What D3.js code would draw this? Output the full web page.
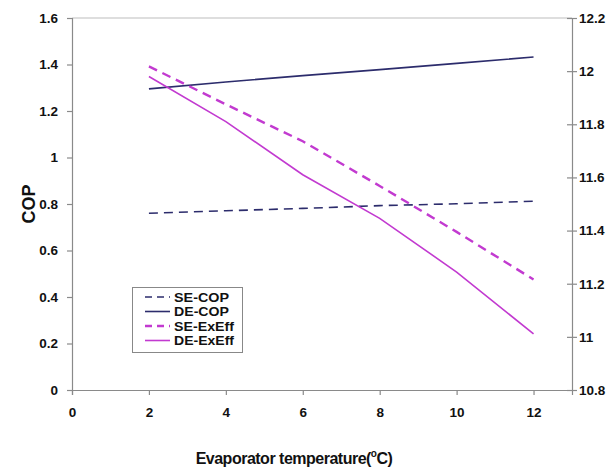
<!DOCTYPE html>
<html><head><meta charset="utf-8">
<script src="https://cdn.jsdelivr.net/npm/d3@7"></script>
<style>body{margin:0;background:#fff}svg{display:block}text{font-family:"Liberation Sans",Arial,sans-serif;font-weight:bold}</style>
</head><body>
<svg id="c" width="610" height="473"></svg>
<script>
const temps = [2, 4, 6, 8, 10, 12];
const seCOP = [0.760, 0.771, 0.781, 0.793, 0.801, 0.812];
const deCOP = [1.295, 1.325, 1.352, 1.378, 1.405, 1.432];
const seExEff = [12.018, 11.875, 11.736, 11.568, 11.395, 11.216];
const deExEff = [11.98, 11.81, 11.61, 11.446, 11.244, 11.011];
const xTicks = [0, 2, 4, 6, 8, 10, 12];
const yLeftTicks = [0, 0.2, 0.4, 0.6, 0.8, 1, 1.2, 1.4, 1.6];
const yRightTicks = [10.8, 11, 11.2, 11.4, 11.6, 11.8, 12, 12.2];
const seriesNames = ["SE-COP", "DE-COP", "SE-ExEff", "DE-ExEff"];

const svg = d3.select("#c");
const L = 72, R = 572, T = 18, B = 390;
const x = d3.scaleLinear().domain([0, 13]).range([L, R]);
const yL = d3.scaleLinear().domain([0, 1.6]).range([B, T]);
const yR = d3.scaleLinear().domain([10.8, 12.2]).range([B, T]);
const axisCol = "#8a8a8a";

svg.append("line").attr("x1", L).attr("x2", R).attr("y1", T).attr("y2", T).attr("stroke", "#bdbdbd").attr("stroke-width", 1);

const fmt = d => d3.format("")(+d.toFixed(1));
const gx = svg.append("g").attr("transform", `translate(0,${B})`)
  .call(d3.axisBottom(x).tickValues(xTicks).tickSize(5).tickPadding(12).tickFormat(d3.format("d")));
const gl = svg.append("g").attr("transform", `translate(${L},0)`)
  .call(d3.axisLeft(yL).tickValues(yLeftTicks).tickSize(5).tickPadding(9).tickFormat(fmt));
const gr = svg.append("g").attr("transform", `translate(${R},0)`)
  .call(d3.axisRight(yR).tickValues(yRightTicks).tickSize(5).tickPadding(2).tickFormat(fmt));
gr.selectAll(".tick line").attr("x1", -5);
[gx, gl, gr].forEach(g => {
  g.select(".domain").attr("stroke", axisCol).attr("stroke-width", 1.2);
  g.selectAll(".tick line").attr("stroke", axisCol).attr("stroke-width", 1.2);
  g.selectAll(".tick text").attr("fill", "#111").style("font-size", "13.5px").style("font-family", "'Liberation Sans',Arial,sans-serif").style("font-weight", "bold");
});

const navy = "#2c2c6c", mag = "#c23ad0";
const lineL = d3.line().x((d, i) => x(temps[i])).y(d => yL(d));
const lineR = d3.line().x((d, i) => x(temps[i])).y(d => yR(d));
svg.append("path").attr("d", lineL(seCOP)).attr("fill", "none").attr("stroke", navy).attr("stroke-width", 1.6).attr("stroke-dasharray", "9,6");
svg.append("path").attr("d", lineL(deCOP)).attr("fill", "none").attr("stroke", navy).attr("stroke-width", 1.6);
svg.append("path").attr("d", lineR(seExEff)).attr("fill", "none").attr("stroke", mag).attr("stroke-width", 2.4).attr("stroke-dasharray", "9,6");
svg.append("path").attr("d", lineR(deExEff)).attr("fill", "none").attr("stroke", mag).attr("stroke-width", 1.6);

const lg = svg.append("g");
lg.append("rect").attr("x", 132.5).attr("y", 287.5).attr("width", 110).attr("height", 65).attr("fill", "#fff").attr("stroke", "#888").attr("stroke-width", 1);
const styles = [
  {c: navy, w: 1.6, d: "7,5"}, {c: navy, w: 1.6, d: null},
  {c: mag, w: 2.4, d: "7,5"}, {c: mag, w: 1.6, d: null}];
seriesNames.forEach((n, i) => {
  const yy = 297 + i * 14.5;
  const ln = lg.append("line").attr("x1", 145).attr("x2", 170).attr("y1", yy).attr("y2", yy).attr("stroke", styles[i].c).attr("stroke-width", styles[i].w);
  if (styles[i].d) ln.attr("stroke-dasharray", styles[i].d);
  lg.append("text").attr("x", 174).attr("y", yy + 4.5).attr("font-size", 13.5).attr("fill", "#111").attr("textLength", i < 2 ? 55 : 60).attr("lengthAdjust", "spacingAndGlyphs").text(n);
});

svg.append("text").attr("transform", "translate(35,204) rotate(-90)").attr("text-anchor", "middle").attr("font-size", 18).attr("fill", "#111").text("COP");
const xt = svg.append("text").attr("x", 294).attr("y", 464).attr("text-anchor", "middle").attr("font-size", 16).attr("letter-spacing", "-0.5px").attr("fill", "#111");
xt.append("tspan").text("Evaporator temperature(");
xt.append("tspan").attr("dy", -7).attr("font-size", 10).text("o");
xt.append("tspan").attr("dy", 7).text("C)");
</script>
</body></html>
